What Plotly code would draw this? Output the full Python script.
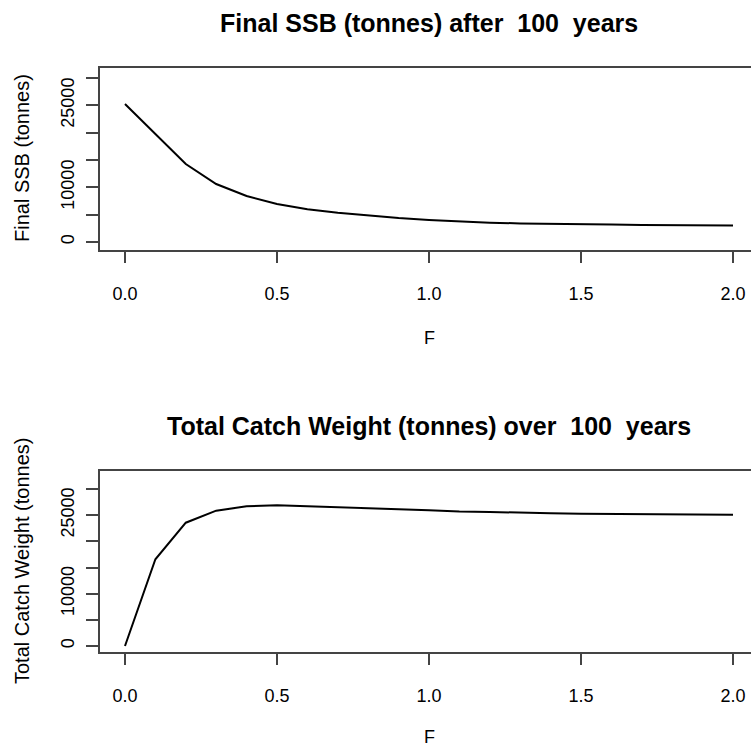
import plotly.graph_objects as go

F_values = [0.0, 0.1, 0.2, 0.3, 0.4, 0.5, 0.6, 0.7, 0.8, 0.9, 1.0,
            1.1, 1.2, 1.3, 1.4, 1.5, 1.6, 1.7, 1.8, 1.9, 2.0]
final_ssb = [25240, 19790, 14270, 10610, 8410, 6950, 5980, 5360, 4820, 4380, 4020,
             3760, 3540, 3400, 3290, 3240, 3190, 3110, 3070, 3040, 3000]
total_catch = [0, 16570, 23560, 25860, 26690, 26880, 26700, 26550, 26400, 26150, 25950,
               25700, 25620, 25450, 25350, 25280, 25220, 25130, 25100, 25090, 25080]

y_tickvals = [0, 5000, 10000, 15000, 20000, 25000, 30000]
y_ticktext = ["0", "", "10000", "", "", "25000", ""]
x_tickvals = [0.0, 0.5, 1.0, 1.5, 2.0]
x_ticktext = ["0.0", "0.5", "1.0", "1.5", "2.0"]

title_top = "Final SSB (tonnes) after  100  years"
title_bottom = "Total Catch Weight (tonnes) over  100  years"
ylabel_top = "Final SSB (tonnes)"
ylabel_bottom = "Total Catch Weight (tonnes)"
xlabel = "F"

W, H = 751, 749
ML = 100
FONT = "Liberation Sans, Arial, sans-serif"

fig = go.Figure()
fig.add_trace(go.Scatter(x=F_values, y=final_ssb, mode="lines",
                         line=dict(color="black", width=2), xaxis="x", yaxis="y",
                         showlegend=False, hoverinfo="skip"))
fig.add_trace(go.Scatter(x=F_values, y=total_catch, mode="lines",
                         line=dict(color="black", width=2), xaxis="x2", yaxis="y2",
                         showlegend=False, hoverinfo="skip"))

def py(px):
    return 1 - px / H

def pxx(px):
    return (px - ML) / (W - ML)

axis_line = "#444444"
xcommon = dict(range=[-0.0822, 2.0592], tickvals=x_tickvals, ticktext=x_ticktext,
               showgrid=False, zeroline=False, showline=True, linecolor=axis_line,
               linewidth=1.5, mirror=True, ticks="outside", ticklen=11,
               tickcolor=axis_line, tickwidth=1.5,
               tickfont=dict(family=FONT, size=18, color="black"),
               ticklabelstandoff=16)
ycommon = dict(tickvals=y_tickvals, ticktext=y_ticktext, tickangle=-90,
               showgrid=False, zeroline=False, showline=True, linecolor=axis_line,
               linewidth=1.5, mirror=False, ticks="outside", ticklen=12,
               tickcolor=axis_line, tickwidth=1.5,
               tickfont=dict(family=FONT, size=18, color="black"),
               ticklabelstandoff=5)

fig.update_layout(
    width=W, height=H,
    margin=dict(l=ML, r=0, t=0, b=0),
    paper_bgcolor="white", plot_bgcolor="white",
    xaxis=dict(domain=[0, 1], anchor="y", **xcommon),
    yaxis=dict(domain=[py(250), py(68)], anchor="x", range=[-1463, 31829], **ycommon),
    xaxis2=dict(domain=[0, 1], anchor="y2", **xcommon),
    yaxis2=dict(domain=[py(652), py(470.7)], anchor="x2", range=[-1147, 33497], **ycommon),
)

cx = pxx(429)
ann = [
    dict(text="<b>" + title_top + "</b>", x=cx, y=py(23), font=dict(family=FONT, size=25)),
    dict(text="<b>" + title_bottom + "</b>", x=cx, y=py(426), font=dict(family=FONT, size=25)),
    dict(text=xlabel, x=cx, y=py(338), font=dict(family=FONT, size=18)),
    dict(text=xlabel, x=cx, y=py(737), font=dict(family=FONT, size=18)),
    dict(text=ylabel_top, x=pxx(22), y=py(158), textangle=-90, font=dict(family=FONT, size=20)),
    dict(text=ylabel_bottom, x=pxx(22), y=py(561), textangle=-90, font=dict(family=FONT, size=20)),
]
for a in ann:
    a.update(xref="paper", yref="paper", showarrow=False, xanchor="center", yanchor="middle")
    a["font"]["color"] = "black"
fig.update_layout(annotations=ann)

fig.write_html("out.html", config={"displayModeBar": False},
               post_script="document.body.style.margin='0px';")
